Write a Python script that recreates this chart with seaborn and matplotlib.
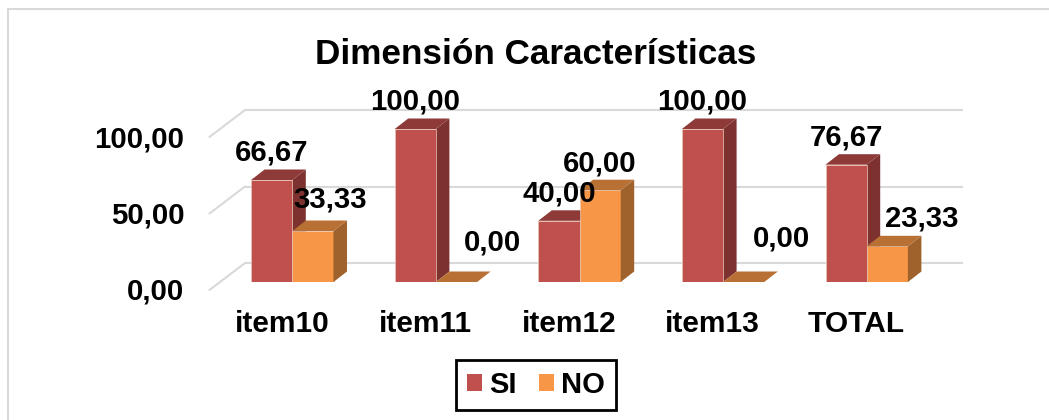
import matplotlib
matplotlib.use("Agg")
import matplotlib.pyplot as plt
from matplotlib.patches import Polygon
from matplotlib.lines import Line2D
from matplotlib.transforms import Affine2D
import seaborn as sns
import pandas as pd

categories = ["item10", "item11", "item12", "item13", "TOTAL"]
si_values = [66.67, 100.00, 40.00, 100.00, 76.67]
no_values = [33.33, 0.00, 60.00, 0.00, 23.33]
series_names = ["SI", "NO"]
yticks = [0, 50, 100]

W, H = 1049, 420
X_LEFT, X_RIGHT = 220.5, 938.5
Y_BOTTOM, Y_TOP = 282.0, 129.0
PX_X = (X_RIGHT - X_LEFT) / 5
PX_Y = (Y_BOTTOM - Y_TOP) / 100

FRONT = {"SI": "#C0504D", "NO": "#F79646"}
SIDE = {"SI": "#7D3230", "NO": "#A0622C"}
TOP = {"SI": "#8E3A38", "NO": "#B97034"}
ZORDER = {"SI": 3, "NO": 5}
DEPTH_X, DEPTH_Y = 13.5 / PX_X, 10.5 / PX_Y
FONT = "Liberation Sans"
# pixel offsets of each data label from its bar's top centre
SI_OFFSETS = [(0, 30), (0, 31), (0, 30), (0, 31), (0, 30)]
NO_OFFSETS = [(17, 35), (36, 42), (0, 30), (38, 46), (34, 31)]

sns.set_theme(style="white")
plt.rcParams["font.family"] = FONT
plt.rcParams["font.weight"] = "bold"
plt.rcParams["text.color"] = "black"

df = pd.DataFrame({
    "cat": categories * 2,
    "serie": [series_names[0]] * 5 + [series_names[1]] * 5,
    "valor": si_values + no_values,
})

fig = plt.figure(figsize=(W / 100, H / 100), dpi=100, facecolor="white")
ax = fig.add_axes([X_LEFT / W, 1 - Y_BOTTOM / H, (X_RIGHT - X_LEFT) / W, (Y_BOTTOM - Y_TOP) / H])
ax.patch.set_alpha(0)

sns.barplot(data=df, x="cat", y="valor", hue="serie", hue_order=series_names,
            order=categories, palette=FRONT, width=41.2 * 2 / PX_X, gap=0,
            saturation=1, ax=ax, zorder=4, edgecolor="#E9C9B8", linewidth=0.5)
ax.set_xlim(-0.5, 4.5)
ax.set_ylim(0, 100)
ax.set_xlabel("")
ax.set_ylabel("")
for s in ax.spines.values():
    s.set_visible(False)

# walls: gridlines on the back wall and diagonals on the side wall
back_x, back_y = 24.5 / PX_X, 19 / PX_Y
front_x, front_y = -11 / PX_X, -8 / PX_Y
for t in yticks:
    ax.plot([-0.5 + back_x, 4.5 + back_x], [t + back_y] * 2, color="#D9D9D9", lw=1.5,
            clip_on=False, zorder=1, solid_capstyle="butt")
    ax.plot([-0.5 + front_x, -0.5 + back_x], [t + front_y, t + back_y], color="#D9D9D9", lw=1.5,
            clip_on=False, zorder=1)

# 3D faces from each bar's geometry
for cont, name, offsets in zip(ax.containers, series_names, [SI_OFFSETS, NO_OFFSETS]):
    for bar, off in zip(cont, offsets):
        x0, w, h = bar.get_x(), bar.get_width(), bar.get_height()
        x1 = x0 + w
        ax.add_patch(Polygon([(x1, 0), (x1 + DEPTH_X, DEPTH_Y), (x1 + DEPTH_X, h + DEPTH_Y), (x1, h)],
                             closed=True, fc=SIDE[name], ec="none", clip_on=False, zorder=ZORDER[name]))
        ax.add_patch(Polygon([(x0, h), (x0 + DEPTH_X, h + DEPTH_Y), (x1 + DEPTH_X, h + DEPTH_Y), (x1, h)],
                             closed=True, fc=TOP[name], ec="none", clip_on=False, zorder=ZORDER[name]))
        ax.annotate(f"{h:.2f}".replace(".", ","), xy=(x0 + w / 2, h), xytext=off,
                    textcoords="offset pixels", ha="center", va="center_baseline",
                    fontsize=21.2, fontweight="bold", color="black", zorder=7,
                    annotation_clip=False)

ax.set_yticks(yticks)
ax.set_yticklabels([f"{t:.2f}".replace(".", ",") for t in yticks], fontsize=21.2, fontweight="bold", color="black")
ax.tick_params(axis="y", length=0, pad=26)
ax.tick_params(axis="x", length=0, pad=20)
for lab in ax.get_yticklabels():
    lab.set_transform(lab.get_transform() + Affine2D().translate(0, -7))
for lab in ax.get_xticklabels():
    lab.set_fontsize(21.5)
    lab.set_fontweight("bold")
    lab.set_color("black")
    lab.set_transform(lab.get_transform() + Affine2D().translate(-10.5, 0))

fig.text(536 / W, 1 - 54 / H, "Dimensión Características", ha="center", va="center",
         fontsize=25.3, fontweight="bold", color="black")

sns.move_legend(ax, "center", bbox_to_anchor=(536 / W, 1 - 385 / H), bbox_transform=fig.transFigure,
                ncol=2, title=None, frameon=True, fancybox=False, edgecolor="black", framealpha=1,
                prop={"family": FONT, "weight": "bold", "size": 21},
                handlelength=0.52, handleheight=0.52, columnspacing=0.75, handletextpad=0.25,
                borderpad=0.38, borderaxespad=0, labelcolor="black")
leg = ax.get_legend()
leg.set_zorder(8)
leg.get_frame().set_linewidth(2.0)
for h in leg.get_patches():
    h.set_edgecolor("none")

# outer chart border: only the left and top edges fall inside the picture
fig.add_artist(Line2D([8 / W, 8 / W, 1], [0, 1 - 9 / H, 1 - 9 / H], transform=fig.transFigure,
                      color="#D9D9D9", lw=1.5, solid_joinstyle="miter"))

fig.savefig("out.png", dpi=100, facecolor="white")
